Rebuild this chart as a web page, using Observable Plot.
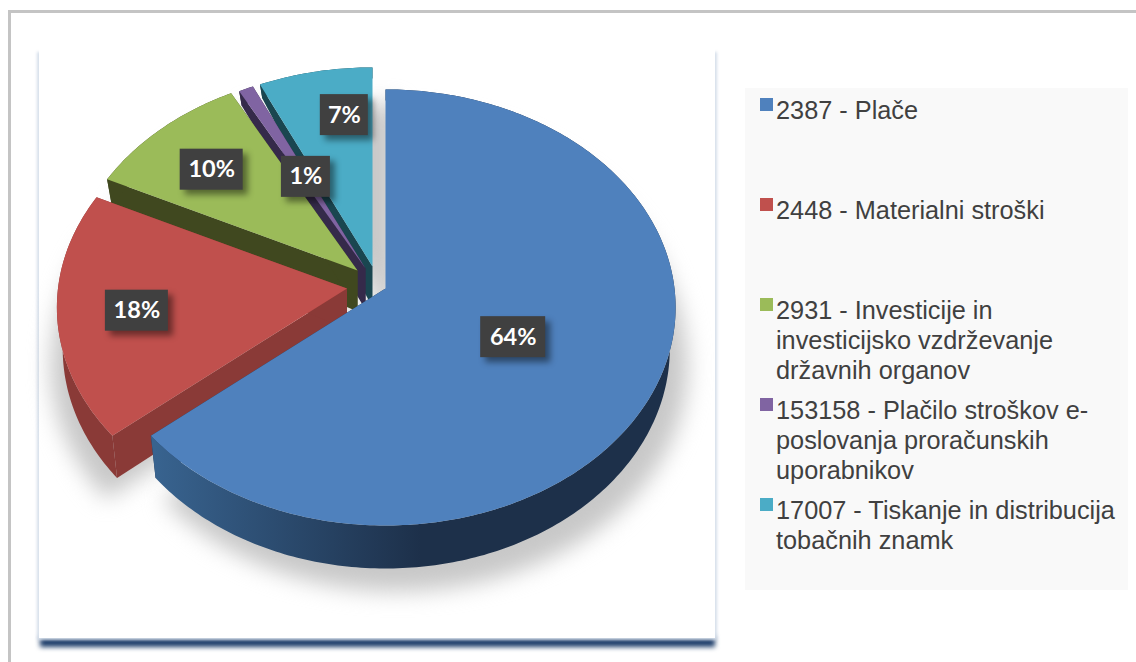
<!DOCTYPE html>
<html>
<head>
<meta charset="utf-8">
<script src="https://cdn.jsdelivr.net/npm/d3@7"></script>
<script src="https://cdn.jsdelivr.net/npm/@observablehq/plot@0.6"></script>
<style>
  html, body { margin: 0; padding: 0; background: #fff; }
  #wrap { position: relative; width: 1136px; height: 662px; overflow: hidden; }
  #wrap svg { display: block; position: absolute; left: 0; top: 0; }
  #legend { position: absolute; left: 745px; top: 88px; width: 383px; height: 501.5px; background: #f9f9f9;
            font-family: "Liberation Sans", Arial, sans-serif; font-size: 25.3px; line-height: 30px; color: #404040; }
  .item { position: absolute; left: 15px; width: 365px; height: 100px; }
  .item i { position: absolute; left: 0; top: 10px; width: 13px; height: 13px; }
  .item span { position: absolute; left: 16px; top: 7px; width: 350px; white-space: pre; }
</style>
</head>
<body>
<div id="wrap"></div>
<script>
// ---- data ----
const categories = [
  "2387 - Plače",
  "2448 - Materialni stroški",
  "2931 - Investicije in\ninvesticijsko vzdrževanje\ndržavnih organov",
  "153158 - Plačilo stroškov e-\nposlovanja proračunskih\nuporabnikov",
  "17007 - Tiskanje in distribucija\ntobačnih znamk"
];
const shares = [63.9, 18.3, 10, 0.9, 6.9];
const shareLabels = ["64%", "18%", "10%", "1%", "7%"];

// ---- styles ----
const topColors = ["#4f81bd", "#c0504d", "#9bbb59", "#8064a2", "#4bacc6"];
const sideColors = ["#1d304a", "#8a3a37", "#40481f", "#352a4a", "#1a4650"];

// ---- layout of the tilted pie ----
const cx = 385, cy = 288, rx = 289, ry = 216.4, persp = 0.087, bottomScale = 0.98;
const explode = [[0, 0], [-38.5, 0], [-28, -18], [-20, -20], [-13, -22]];
const labelRadius = [0.49, 0.72, 0.70, 0.48, 0.72];
const labelShift = [[-3, 3], [-2, 3], [-6, 0], [0, -2], [14, -8]];
const boxWidth = [65, 63, 63, 49, 48];
const boxHeight = 41;
const shadowShift = [[12, 18], [-6, 18], [6, 10], [6, 10], [24, 30]];

const arcs = d3.pie().sort(null).value(d => d)(shares);

function project(a, r, i) {
  const u = Math.sin(a) * r, v = -Math.cos(a) * r, s = 1 / (1 - persp * v);
  return {x: cx + explode[i][0] + rx * u * s, y: cy + explode[i][1] + ry * v * s, v};
}
function lower(p, i) {
  const ax = cx + explode[i][0];
  const d = p.v < 0 ? 41 + 30 * p.v : 41 + 2 * p.v;
  return {x: ax + (p.x - ax) * bottomScale, y: p.y + d, v: p.v};
}
function arcPoints(d, i) {
  const n = Math.max(4, Math.ceil((d.endAngle - d.startAngle) / 0.015));
  return d3.range(n + 1).map(k => project(d.startAngle + (d.endAngle - d.startAngle) * k / n, 1, i));
}

const marks = [];
const poly = (pts, fill, extra = {}) =>
  Plot.line(pts, {x: "x", y: "y", fill, stroke: "none", curve: "linear-closed", ...extra});

// the sheet behind the pie
marks.push(Plot.rect([{x1: 40, x2: 715, y1: 636, y2: 647}], {x1: "x1", x2: "x2", y1: "y1", y2: "y2", fill: "#1f3f6b", imageFilter: "blur(2.5px)"}));
marks.push(Plot.rect([{x1: 37, x2: 717, y1: 52, y2: 640}], {x1: "x1", x2: "x2", y1: "y1", y2: "y2", fill: "#d5deea", imageFilter: "blur(1.5px)"}));
marks.push(Plot.rect([{x1: 39, x2: 715, y1: 40, y2: 638}], {x1: "x1", x2: "x2", y1: "y1", y2: "y2", fill: "#ffffff"}));
// frame
marks.push(Plot.rect([{x1: 8, x2: 11, y1: 10, y2: 662}], {x1: "x1", x2: "x2", y1: "y1", y2: "y2", fill: "#c4c4c4"}));
marks.push(Plot.rect([{x1: 8, x2: 1136, y1: 10, y2: 13}], {x1: "x1", x2: "x2", y1: "y1", y2: "y2", fill: "#c4c4c4"}));

// soft shadows
arcs.forEach((d, i) => {
  const pts = arcPoints(d, i);
  const apex = {x: cx + explode[i][0], y: cy + explode[i][1], v: 0};
  const floor = [apex, ...pts].map(p => lower(p, i));
  const [sx, sy] = shadowShift[i];
  const shadow = floor.map(p => ({x: apex.x + (p.x - apex.x) * 1.02 + sx, y: apex.y + 41 + (p.y - apex.y - 41) * 1.02 + sy}));
  marks.push(poly(shadow, "#c8c8c8", {imageFilter: "blur(11px)"}));
});

// slices, back to front
[4, 3, 2, 1, 0].forEach(i => {
  const d = arcs[i], pts = arcPoints(d, i);
  const apex = {x: cx + explode[i][0], y: cy + explode[i][1], v: 0};
  const low = pts.map(p => lower(p, i));
  const lowApex = lower(apex, i);
  const side = i === 0 ? "url(#blueRim)" : sideColors[i];
  marks.push(poly([apex, pts[0], low[0], lowApex], sideColors[i]));
  marks.push(poly([apex, pts[pts.length - 1], low[low.length - 1], lowApex], sideColors[i]));
  marks.push(poly([...pts, ...low.slice().reverse()], side));
  marks.push(poly([apex, ...pts], topColors[i]));
});

// value labels
const labelRows = arcs.map((d, i) => {
  const p = project((d.startAngle + d.endAngle) / 2, labelRadius[i], i);
  const x = p.x + labelShift[i][0], y = p.y + labelShift[i][1];
  return {x, y, text: shareLabels[i], x1: x - boxWidth[i] / 2, x2: x + boxWidth[i] / 2, y1: y - boxHeight / 2, y2: y + boxHeight / 2,
          sx1: x - boxWidth[i] / 2 + 5, sx2: x + boxWidth[i] / 2 + 5, sy1: y - boxHeight / 2 + 5, sy2: y + boxHeight / 2 + 5};
});
marks.push(Plot.rect(labelRows, {x1: "sx1", x2: "sx2", y1: "sy1", y2: "sy2", fill: "#000", fillOpacity: 0.45, imageFilter: "blur(3px)"}));
marks.push(Plot.rect(labelRows, {x1: "x1", x2: "x2", y1: "y1", y2: "y2", fill: "#404040"}));
marks.push(Plot.text(labelRows, {x: "x", y: "y", text: "text", fill: "#fff", fontSize: 23.5, fontWeight: 700, fontFamily: "Lato, 'Open Sans', sans-serif"}));

const chart = Plot.plot({
  width: 1136, height: 662,
  marginTop: 0, marginRight: 0, marginBottom: 0, marginLeft: 0,
  x: {domain: [0, 1136], range: [0, 1136], axis: null},
  y: {domain: [0, 662], range: [0, 662], axis: null},
  style: {background: "#fff"},
  marks
});

// gradient used by the outer wall of the big slice
const defs = d3.select(chart).insert("defs", ":first-child");
const grad = defs.append("linearGradient").attr("id", "blueRim")
  .attr("gradientUnits", "userSpaceOnUse").attr("x1", 155).attr("x2", 420).attr("y1", 0).attr("y2", 0);
grad.append("stop").attr("offset", 0).attr("stop-color", "#38638f");
grad.append("stop").attr("offset", 1).attr("stop-color", sideColors[0]);

const wrap = document.getElementById("wrap");
wrap.appendChild(chart);

// legend
const legend = d3.select(wrap).append("div").attr("id", "legend");
categories.forEach((c, i) => {
  const item = legend.append("div").attr("class", "item").style("top", `${i * 100}px`);
  item.append("i").style("background", topColors[i]);
  item.append("span").text(c);
});
</script>
</body>
</html>
